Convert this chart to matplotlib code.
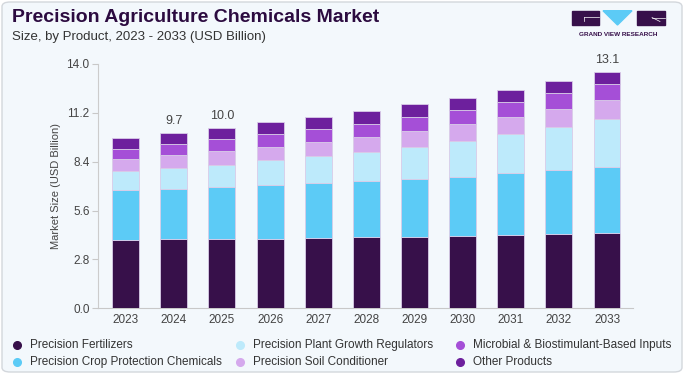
import numpy as np
import matplotlib
matplotlib.use("Agg")
import matplotlib.pyplot as plt
from matplotlib.patches import Rectangle, Polygon, FancyBboxPatch
from matplotlib.lines import Line2D

plt.rcParams["font.family"] = ["Liberation Sans", "DejaVu Sans"]

# ---- data (USD Billion) ----
years = ["2023", "2024", "2025", "2026", "2027", "2028",
         "2029", "2030", "2031", "2032", "2033"]
fertilizers = [3.93, 3.97, 3.97, 3.97, 4.03, 4.06, 4.09, 4.14, 4.20, 4.23, 4.32]
crop_protection = [2.84, 2.89, 2.99, 3.07, 3.14, 3.22, 3.34, 3.41, 3.53, 3.67, 3.77]
growth_regulators = [1.09, 1.19, 1.28, 1.44, 1.55, 1.67, 1.84, 2.03, 2.24, 2.47, 2.74]
soil_conditioner = [0.67, 0.75, 0.79, 0.79, 0.81, 0.86, 0.88, 0.96, 0.98, 1.04, 1.09]
microbial = [0.62, 0.63, 0.65, 0.69, 0.73, 0.73, 0.79, 0.82, 0.88, 0.92, 0.96]
other = [0.63, 0.63, 0.67, 0.69, 0.73, 0.77, 0.77, 0.71, 0.69, 0.69, 0.67]
# totals printed above selected bars
labelled = {"2024": "9.7", "2025": "10.0", "2033": "13.1"}

series = [
    ("Precision Fertilizers", fertilizers, "#37104a"),
    ("Precision Crop Protection Chemicals", crop_protection, "#5ccbf6"),
    ("Precision Plant Growth Regulators", growth_regulators, "#bdeafb"),
    ("Precision Soil Conditioner", soil_conditioner, "#d5a9ed"),
    ("Microbial & Biostimulant-Based Inputs", microbial, "#a54fd7"),
    ("Other Products", other, "#6d209d"),
]

BG = "#f3f8fc"
TXT = "#444444"
DARK = "#2c0b40"

fig = plt.figure(figsize=(6.84, 3.75), dpi=100, facecolor="white")
W, H = 684, 375


def fx(px):
    return px / W


def fy(py):
    return 1 - py / H


# card background with rounded border
card = FancyBboxPatch((fx(2), fy(372)), fx(680), 370 / H,
                      boxstyle="round,pad=0,rounding_size=0.012",
                      transform=fig.transFigure, facecolor=BG,
                      edgecolor="#d3d7dc", linewidth=1.0, zorder=-10)
fig.patches.append(card)

ax = fig.add_axes([fx(98), fy(308.3), fx(633 - 98), (308.3 - 64) / H])
ax.set_zorder(5)
ax.patch.set_alpha(0)

x = np.arange(len(years))
bottom = np.zeros(len(years))
for name, vals, col in series:
    ax.bar(x, vals, width=0.56, bottom=bottom, color=col,
           edgecolor="#d9cce8", linewidth=0.6, label=name, zorder=3)
    bottom += np.array(vals)

for i, y in enumerate(years):
    if y in labelled:
        ax.text(x[i], bottom[i] + 0.35, labelled[y], ha="center", va="bottom",
                fontsize=9, color=TXT)

ax.set_ylim(0, 14)
ax.set_xlim(-0.575, 10.54)
ax.set_yticks(np.arange(0, 14.01, 2.8))
ax.set_yticklabels([f"{v:.1f}" for v in np.arange(0, 14.01, 2.8)])
ax.set_xticks(x)
ax.set_xticklabels(years)
ax.tick_params(axis="y", length=4, color="#c8c8c8", labelsize=8.5,
               labelcolor=TXT, pad=2)
ax.tick_params(axis="x", length=0, labelsize=8.5, labelcolor=TXT, pad=4)
for s in ("top", "right"):
    ax.spines[s].set_visible(False)
ax.spines["left"].set_color("#cccccc")
ax.spines["bottom"].set_color("#c8c8c8")
ax.spines["left"].set_linewidth(0.8)
ax.spines["bottom"].set_linewidth(0.8)
ax.set_ylabel("Market Size (USD Billion)", fontsize=8, color=TXT, labelpad=4)

# title / subtitle
fig.text(fx(12), fy(17), "Precision Agriculture Chemicals Market",
         fontsize=14, fontweight="bold", color=DARK, va="center", ha="left")
fig.text(fx(12), fy(37), "Size, by Product, 2023 - 2033 (USD Billion)",
         fontsize=9.5, color="#333333", va="center", ha="left")

# logo
fig.patches.append(Rectangle((fx(571.7), fy(25)), fx(27.6), 14.3 / H,
                             transform=fig.transFigure, color="#37104a"))
fig.patches.append(Rectangle((fx(636.7), fy(25)), fx(28.3), 14.3 / H,
                             transform=fig.transFigure, color="#37104a"))
fig.patches.append(Polygon([(fx(603), fy(10.7)), (fx(632), fy(10.7)),
                            (fx(617.5), fy(25))], closed=True,
                           transform=fig.transFigure, color="#5ccbf6"))
fig.lines.append(Line2D([fx(584), fx(599)], [fy(17.3), fy(17.3)],
                        transform=fig.transFigure, color="white", lw=0.5))
fig.lines.append(Line2D([fx(584), fx(584)], [fy(17.3), fy(21)],
                        transform=fig.transFigure, color="white", lw=0.5))
fig.lines.append(Line2D([fx(652), fx(665)], [fy(17.5), fy(17.5)],
                        transform=fig.transFigure, color="white", lw=0.5))
fig.lines.append(Line2D([fx(652), fx(660)], [fy(17.5), fy(21.5)],
                        transform=fig.transFigure, color="white", lw=0.5))
fig.text(fx(618.5), fy(34), "GRAND VIEW RESEARCH", fontsize=4.6,
         fontweight="bold", color="#37104a", ha="center", va="center")

# legend (manual, two rows x three columns)
col_x = [17, 240, 460]
row_y = [345, 362]
for k, (name, vals, col) in enumerate(series):
    cx = col_x[k // 2]
    ry = row_y[k % 2]
    fig.lines.append(Line2D([fx(cx)], [fy(ry)], marker="o", markersize=5.5,
                            color=col, linestyle="none",
                            transform=fig.transFigure))
    fig.text(fx(cx + 13), fy(ry), name, fontsize=8.5, color="#333333",
             ha="left", va="center")

fig.savefig("out.png", dpi=100, facecolor="white")
